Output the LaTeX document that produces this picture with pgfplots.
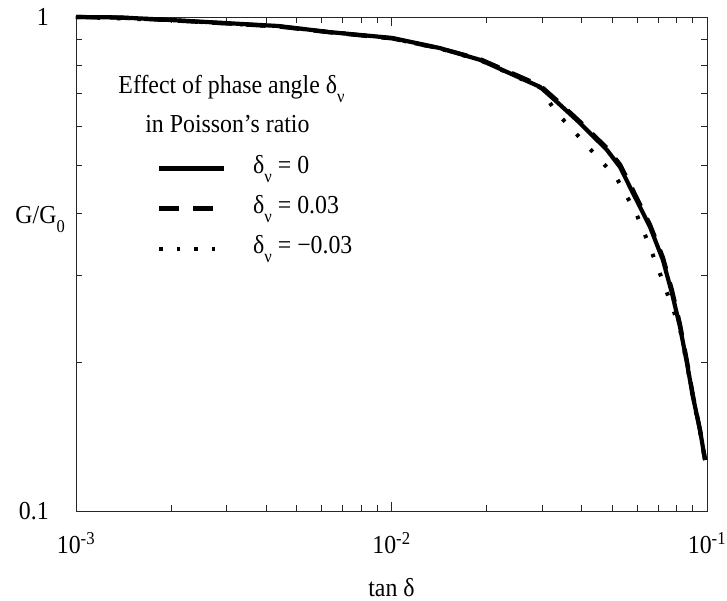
\documentclass[border=0pt]{standalone}
\usepackage{pgfplots}
\pgfplotsset{compat=1.18}
\usepackage{fontspec}
\setmainfont[FakeStretch=0.92]{Liberation Serif}
\newcommand{\sub}[1]{\raisebox{-9bp}{\fontsize{18}{18}\selectfont #1}}
\pgfplotsset{
  legline/.style={legend image code/.code={\draw[##1] (0bp,0bp) -- (65bp,0bp);}},
  legdot/.style={legend image code/.code={\draw[##1, dash pattern=on 3.5bp off 14bp] (0bp,0bp) -- (65bp,0bp);}},
}
\begin{document}
\begin{tikzpicture}[font=\fontsize{26}{30}\selectfont]
\useasboundingbox (-76bp,-90bp) rectangle (651bp,511bp);
\begin{axis}[
  scale only axis,
  width=631bp, height=494bp,
  xmode=log, ymode=log,
  xmin=0.001, xmax=0.1, ymin=0.1, ymax=1,
  xtick={0.001,0.01,0.1},
  xticklabels={10\textsuperscript{-3},10\textsuperscript{-2},10\textsuperscript{-1}},
  ytick={0.1,1},
  yticklabels={0.1,1},
  axis line style={line width=0.8bp, black!85},
  every tick/.style={line width=0.7bp, black!85},
  major tick length=9bp, minor tick length=6bp,
  xticklabel style={anchor=north, inner sep=0pt, yshift=-21bp},
  yticklabel style={anchor=east, inner sep=0pt, xshift=-27bp},
  xlabel={tan δ},
  xlabel style={at={(rel axis cs:0.5,0)}, anchor=base, yshift=-85bp, inner sep=0pt},
  ylabel={G/G\sub{0}},
  ylabel style={rotate=-90, at={(rel axis cs:0,0.59)}, anchor=east, xshift=-11bp, inner sep=0pt},
  clip=false,
  legend cell align=left,
  legend style={draw=none, fill=none, at={(rel axis cs:0.1284,0.7206)}, anchor=north west,
    inner sep=0pt, outer sep=0pt, column sep=27bp, row sep=13bp,
    nodes={inner sep=0pt, text height=18bp, text depth=9bp}},
]
% solid: delta_nu = 0
\addplot[black, line width=4.2bp, legline] coordinates {
(0.001,1.0) (0.00138,0.998) (0.002,0.986) (0.00437,0.959) (0.00638,0.932) (0.01005,0.907)
(0.01425,0.865) (0.01908,0.819) (0.02957,0.722) (0.03346,0.673) (0.03958,0.610)
(0.0482,0.538) (0.0530,0.497) (0.05829,0.440) (0.06597,0.376) (0.07252,0.322)
(0.07745,0.276) (0.0821,0.236) (0.0864,0.1993) (0.0903,0.170) (0.0950,0.146) (0.0986,0.1268)
};
\addlegendentry{δ\sub{ν} = 0}
% dashed: delta_nu = 0.03
\addplot[black, line width=4.2bp, dash pattern=on 20bp off 14bp, legline] coordinates {
(0.001,1.0) (0.00138,0.997) (0.002,0.985) (0.00437,0.957) (0.00638,0.931) (0.01005,0.905)
(0.01425,0.864) (0.01908,0.822) (0.02957,0.727) (0.03346,0.678) (0.03958,0.614)
(0.0482,0.543) (0.0530,0.503) (0.05829,0.446) (0.06597,0.380) (0.07252,0.326)
(0.07745,0.280) (0.0821,0.239) (0.0864,0.201) (0.0903,0.171) (0.0950,0.146) (0.0986,0.1268)
};
\addlegendentry{δ\sub{ν} = 0.03}
% dotted: delta_nu = -0.03
\addplot[black, line width=4bp, dash pattern=on 3.5bp off 17bp, legdot] coordinates {
(0.001,1.0) (0.002,0.985) (0.00437,0.957) (0.01005,0.905)
(0.01425,0.863) (0.01908,0.818) (0.02957,0.720) (0.0332,0.642) (0.0371,0.596)
(0.0414,0.551) (0.0465,0.509) (0.0519,0.470) (0.0596,0.401) (0.0655,0.346)
(0.0720,0.295) (0.0786,0.253) (0.0821,0.234) (0.0864,0.198) (0.0903,0.169) (0.0950,0.145) (0.0986,0.1268)
};
\addlegendentry{δ\sub{ν} = −0.03}
\node[anchor=base, inner sep=0pt] at (rel axis cs:0.2464,0.846) {Effect of phase angle δ\sub{ν}};
\node[anchor=base, inner sep=0pt] at (rel axis cs:0.240,0.767) {in Poisson's ratio};
\end{axis}
\end{tikzpicture}
\end{document}
